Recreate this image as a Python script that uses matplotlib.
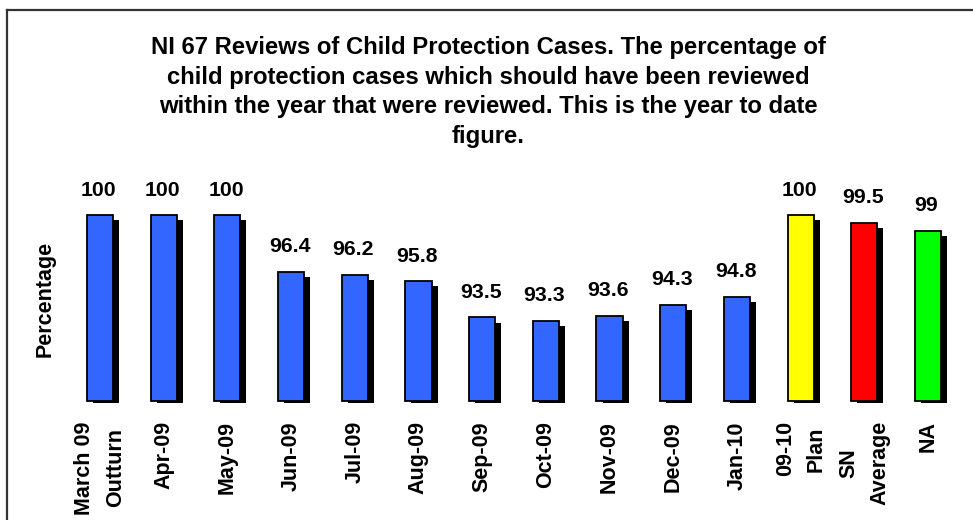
import matplotlib
matplotlib.use("Agg")
import matplotlib.pyplot as plt
from matplotlib.lines import Line2D

plt.rcParams['font.family'] = ['Liberation Sans', 'DejaVu Sans']
plt.rcParams['font.weight'] = 'bold'

# data
categories = ["March 09\nOutturn", "Apr-09", "May-09", "Jun-09", "Jul-09", "Aug-09",
              "Sep-09", "Oct-09", "Nov-09", "Dec-09", "Jan-10", "09-10\nPlan",
              "SN\nAverage", "NA"]
values = [100, 100, 100, 96.4, 96.2, 95.8, 93.5, 93.3, 93.6, 94.3, 94.8, 100, 99.5, 99]
value_labels = ["100", "100", "100", "96.4", "96.2", "95.8", "93.5", "93.3", "93.6",
                "94.3", "94.8", "100", "99.5", "99"]
bar_colors = ["#3366FF"] * 11 + ["#FFFF00", "#FF0000", "#00FF00"]

base = 88.2  # bottom of the bars (axis minimum in the original)

fig = plt.figure(figsize=(9.73, 5.2), dpi=100)
ax = fig.add_axes([0.0635, 0.2167, 0.9295, 0.4244])

x = list(range(len(values)))
heights = [v - base for v in values]

# shadow bars first, shifted right and down
ax.bar([i + 0.095 for i in x], [h - 0.2 for h in heights], bottom=base - 0.13,
       width=0.41, color="black", zorder=1, clip_on=False)
ax.bar(x, heights, bottom=base, width=0.41, color=bar_colors,
       edgecolor="black", linewidth=1.3, zorder=2, clip_on=False)

for i, v in enumerate(values):
    ax.annotate(value_labels[i], xy=(i, v), xytext=(-1, 18), textcoords="offset points",
                ha="center", va="center", fontsize=15.3, fontweight="bold")

ax.set_xlim(-0.6, 13.6)
ax.set_ylim(87.8, 101.8)
ax.set_xticks(x)
ax.set_xticklabels(categories, rotation=90, ha="center", va="top",
                   multialignment="center", fontsize=15.5, fontweight="bold",
                   linespacing=1.6)
ax.tick_params(axis="x", length=0, pad=10)
ax.set_yticks([])
for s in ax.spines.values():
    s.set_visible(False)

fig.text(0.0462, 0.425, "Percentage", rotation=90, ha="center", va="center",
         fontsize=15.5, fontweight="bold")

fig.text(0.5015, 1 - 36 / 520,
         "NI 67 Reviews of Child Protection Cases. The percentage of\n"
         "child protection cases which should have been reviewed\n"
         "within the year that were reviewed. This is the year to date\n"
         "figure.",
         ha="center", va="top", fontsize=17.2, fontweight="bold", linespacing=1.37)

# frame lines along the top and left edge
fig.add_artist(Line2D([6.5 / 973, 1], [1 - 9.5 / 520, 1 - 9.5 / 520],
                      transform=fig.transFigure, color="#333333", lw=1.6))
fig.add_artist(Line2D([6.5 / 973, 6.5 / 973], [0, 1 - 9.5 / 520],
                      transform=fig.transFigure, color="#333333", lw=1.6))

fig.savefig("out.png", dpi=100)
